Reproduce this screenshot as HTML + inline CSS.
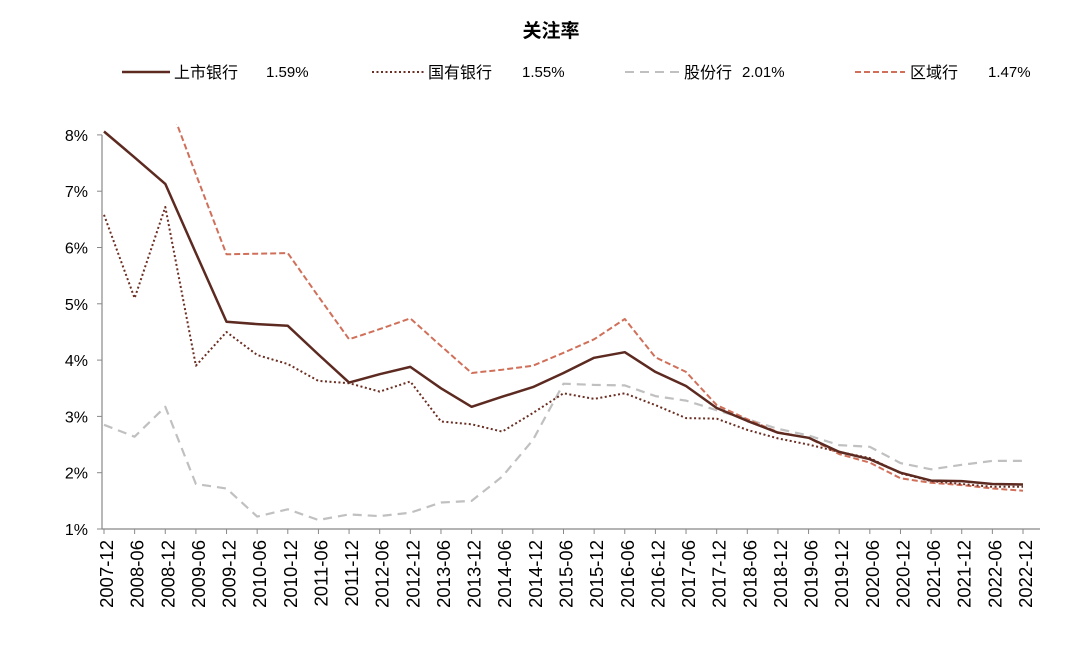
<!DOCTYPE html>
<html><head><meta charset="utf-8"><style>
body{margin:0;background:#fff;font-family:"Liberation Sans","Noto Sans CJK SC",sans-serif}
svg text{font-family:"Liberation Sans","Noto Sans CJK SC",sans-serif}
</style></head><body>
<svg id="chart" width="1080" height="648" xmlns="http://www.w3.org/2000/svg">
<defs><clipPath id="plotclip"><rect x="95" y="124" width="950" height="410"/></clipPath></defs>
<text x="551" y="37" text-anchor="middle" font-size="19" font-weight="bold" fill="#000">关注率</text>
<g font-size="16" fill="#000">
 <g><line x1="122" y1="72" x2="170" y2="72" stroke="#5c2a20" stroke-width="2.5"/><text x="174" y="78">上市银行</text><text x="266" y="77" font-size="15">1.59%</text></g>
 <g><line x1="372" y1="72" x2="425" y2="72" stroke="#6b2e22" stroke-width="2" stroke-dasharray="2 2.5"/><text x="428" y="78">国有银行</text><text x="522" y="77" font-size="15">1.55%</text></g>
 <g><line x1="625" y1="72" x2="680" y2="72" stroke="#c0c0c0" stroke-width="2" stroke-dasharray="9 6"/><text x="684" y="78">股份行</text><text x="742" y="77" font-size="15">2.01%</text></g>
 <g><line x1="855" y1="72" x2="905" y2="72" stroke="#d0705a" stroke-width="2" stroke-dasharray="6 3"/><text x="910" y="78">区域行</text><text x="988" y="77" font-size="15">1.47%</text></g>
</g>
<g id="axes"></g>
<g id="series" clip-path="url(#plotclip)"></g>
</svg>
<script>
const categories=["2007-12","2008-06","2008-12","2009-06","2009-12","2010-06","2010-12","2011-06","2011-12","2012-06","2012-12","2013-06","2013-12","2014-06","2014-12","2015-06","2015-12","2016-06","2016-12","2017-06","2017-12","2018-06","2018-12","2019-06","2019-12","2020-06","2020-12","2021-06","2021-12","2022-06","2022-12"];
const listedValues=[8.06,7.6,7.13,5.9,4.68,4.64,4.61,4.1,3.6,3.75,3.88,3.5,3.17,3.35,3.52,3.77,4.04,4.14,3.79,3.54,3.15,2.92,2.71,2.62,2.37,2.24,2.0,1.86,1.85,1.8,1.79];
const stateValues=[6.58,5.1,6.72,3.9,4.5,4.09,3.93,3.63,3.59,3.44,3.62,2.91,2.86,2.73,3.06,3.41,3.31,3.41,3.2,2.97,2.96,2.76,2.61,2.5,2.37,2.26,1.99,1.85,1.8,1.75,1.75];
const jointValues=[2.85,2.64,3.17,1.8,1.72,1.22,1.35,1.16,1.26,1.23,1.29,1.47,1.5,1.93,2.58,3.58,3.56,3.55,3.36,3.28,3.11,2.95,2.78,2.66,2.49,2.46,2.17,2.06,2.14,2.21,2.21];
const regionalValues=[null,null,8.74,7.3,5.88,5.89,5.9,5.13,4.37,4.55,4.74,4.25,3.77,3.83,3.9,4.13,4.37,4.73,4.05,3.79,3.2,2.95,2.72,2.62,2.33,2.18,1.9,1.82,1.78,1.72,1.68];
const yTicks=[1,2,3,4,5,6,7,8];
const yTickLabels=["1%","2%","3%","4%","5%","6%","7%","8%"];

const NS="http://www.w3.org/2000/svg";
const x0=104,x1=1023,yBase=529,pxPer=56.3;
function xPos(i){return x0+i*(x1-x0)/(categories.length-1);}
function yPos(v){return yBase-(v-1)*pxPer;}
function mk(tag,attrs,parent){const e=document.createElementNS(NS,tag);for(const k in attrs)e.setAttribute(k,attrs[k]);parent.appendChild(e);return e;}
const axes=document.getElementById('axes'),series=document.getElementById('series');
const ya=mk('line',{x1:102,y1:yPos(8),x2:102,y2:yBase,stroke:'#888','stroke-width':1.2},axes);


const xa=mk('line',{x1:102,y1:yBase,x2:1040,y2:yBase,stroke:'#888','stroke-width':1.2},axes);


yTicks.forEach((v,i)=>{
 mk('line',{x1:97,y1:yPos(v),x2:102,y2:yPos(v),stroke:'#888'},axes);
 const t=mk('text',{x:88,y:yPos(v)+6,'text-anchor':'end','font-size':16,fill:'#000'},axes);
 t.textContent=yTickLabels[i];
 
 
});
categories.forEach((c,i)=>{
 const x=xPos(i);
 mk('line',{x1:x,y1:yBase,x2:x,y2:yBase+5,stroke:'#888'},axes);
 const t=mk('text',{x:0,y:0,transform:`translate(${x+9},540) rotate(-90)`,'text-anchor':'end','font-size':18.5,fill:'#000'},axes);
 t.textContent=c;
 
 
});
function drawLine(vals,stroke,w,dash,name){
 let d='',pen=false;
 vals.forEach((v,i)=>{if(v==null){pen=false;return;}d+=(pen?'L':'M')+xPos(i).toFixed(1)+','+yPos(v).toFixed(1);pen=true;});
 const p=mk('path',{d:d,fill:'none',stroke:stroke,'stroke-width':w,'stroke-linejoin':'round'},series);
 if(dash)p.setAttribute('stroke-dasharray',dash);
 
 
}
drawLine(jointValues,'#c0c0c0',2.2,'9 6','joint-stock-line');
drawLine(regionalValues,'#d0705a',2,'6 3','regional-line');
drawLine(stateValues,'#6b2e22',2,'2 2.5','state-line');
drawLine(listedValues,'#5c2a20',2.5,null,'listed-line');
</script>
</body></html>
